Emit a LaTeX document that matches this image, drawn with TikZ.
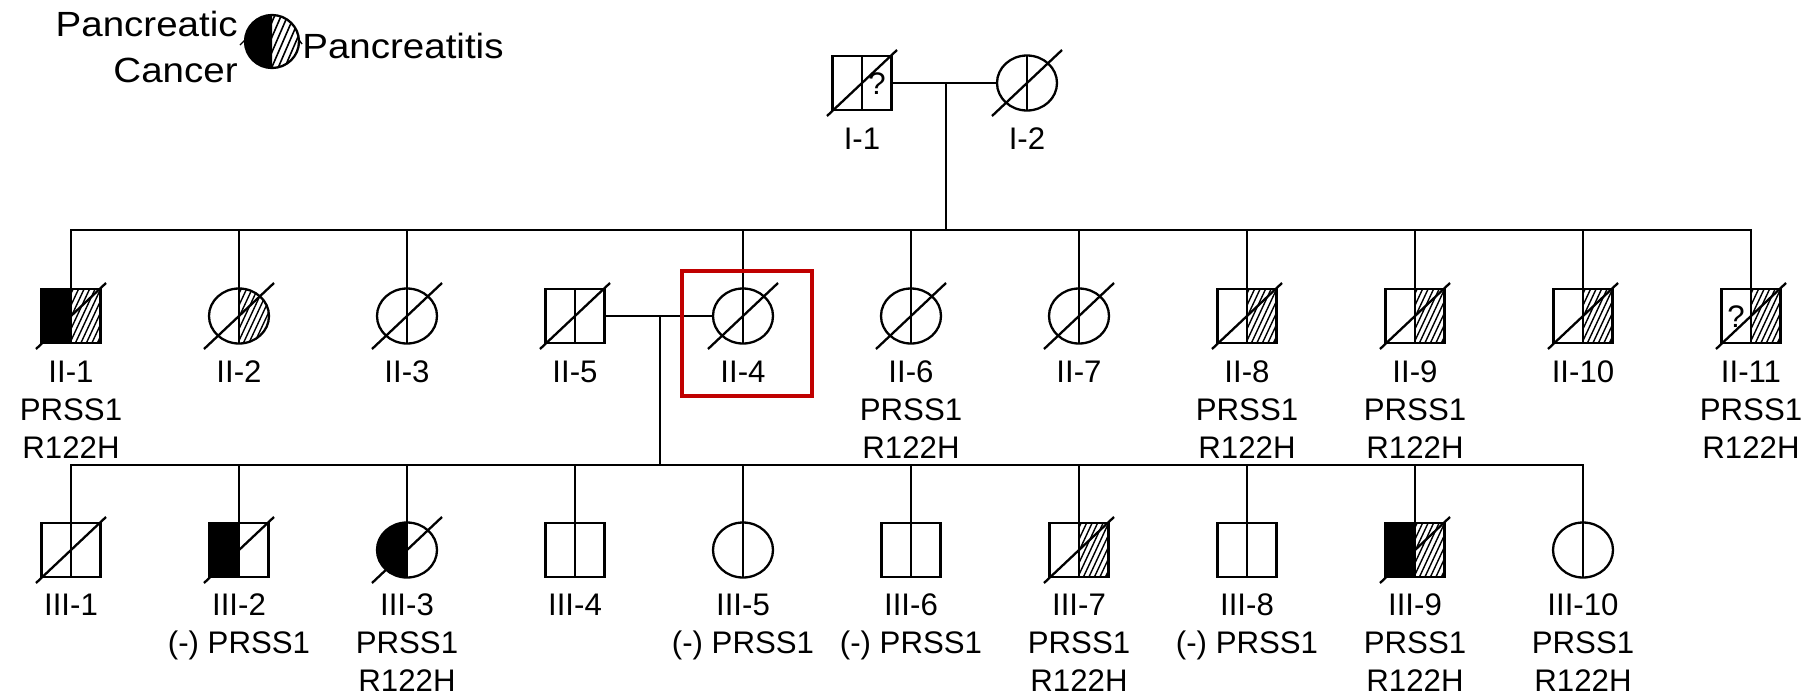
\documentclass[tikz,border=0pt]{standalone}
\usepackage{fontspec}
\setmainfont{Liberation Sans}
\usetikzlibrary{shapes.geometric,calc}
\definecolor{boxred}{RGB}{192,0,0}
\newcommand{\lblfont}{\fontsize{15.6}{19}\selectfont}
\newcommand{\legfont}{\fontsize{17.5}{21}\selectfont}
\tikzset{
  ln/.style={line width=1.15pt, line cap=rect},
  msq/.style={draw, line width=1.15pt, minimum width=29.5pt, minimum height=27pt, inner sep=0pt, outer sep=0pt},
  fcirc/.style={draw, ellipse, line width=1.15pt, minimum width=30pt, minimum height=27.5pt, inner sep=0pt, outer sep=0pt},
  hatch/.style={line width=0.7pt},
  lbl/.style={font=\lblfont, inner sep=0pt, anchor=base},
  legf/.style={font=\legfont, inner sep=0pt},
  hlbox/.style={draw=boxred, line width=2pt, minimum width=65pt, minimum height=62.5pt, inner sep=0pt}
}
% symbols
\newcommand{\Sq}[3]{\node[msq] (#1) at (#2,#3) {}; \draw[line width=1.15pt] (#1.north) -- (#1.south);}
\newcommand{\Ci}[3]{\node[fcirc] (#1) at (#2,#3) {}; \draw[line width=1.15pt] (#1.north) -- (#1.south);}
\newcommand{\Dec}[1]{\draw[line width=1.15pt] ($(#1.center)+(-35,33)$) -- ($(#1.center)+(35,-33)$);}
\newcommand{\hatchlines}[2]{\foreach \k in {0,...,12}{\draw[hatch] (#1-30+\k*5.5,#2+30) -- ++(28,-60);}}
\newcommand{\SqL}[2]{\fill (#1-29.5,#2-27) rectangle (#1,#2+27);}
\newcommand{\SqR}[2]{\begin{scope}\clip (#1,#2-27) rectangle (#1+29.5,#2+27); \hatchlines{#1}{#2}\end{scope}}
\newcommand{\CiL}[2]{\begin{scope}\clip (#1-31,#2-29) rectangle (#1,#2+29); \fill (#1,#2) ellipse [x radius=30, y radius=27.5];\end{scope}}
\newcommand{\CiR}[2]{\begin{scope}\clip (#1,#2) ellipse [x radius=30, y radius=27.5]; \clip (#1,#2-29) rectangle (#1+31,#2+29); \hatchlines{#1}{#2}\end{scope}}
\newcommand{\Lab}[4]{\node[lbl] (#1) at (#2,#3) {#4};}
\begin{document}
\begin{tikzpicture}[x=0.5pt,y=-0.5pt]
\useasboundingbox (0,0) rectangle (1819,697);

% ---------- legend ----------
\begin{scope}
  \clip (272-28,41.5-28) rectangle (272,41.5+28);
  \fill (272,41.5) ellipse [x radius=27, y radius=26.5];
\end{scope}
\begin{scope}
  \clip (272,41.5) ellipse [x radius=27, y radius=26.5];
  \clip (272,41.5-28) rectangle (272+28,41.5+28);
  \foreach \k in {0,...,9}{\draw[line width=0.8pt] (272-28+\k*6.5,41.5+30) -- ++(26,-60);}
\end{scope}
\node[draw, ellipse, line width=1.15pt, minimum width=27pt, minimum height=26.5pt, inner sep=0pt] (leg) at (272,41.5) {};
\node[legf, anchor=base east] (legA) at (238,36) {\scalebox{1.1}[1]{Pancreatic}};
\node[legf, anchor=base east] (legB) at (238,82) {\scalebox{1.1}[1]{Cancer}};
\node[legf, anchor=base west] (legC) at (302,58) {\scalebox{1.1}[1]{Pancreatitis}};
\draw[line width=0.7pt] (240,45) -- (245,40);
\draw[line width=0.7pt] (299,40) -- (302,44);

% ---------- generation I ----------
\Sq{I1}{862}{83}\Dec{I1}
\node[lbl, anchor=center] (q1) at (877,84) {?};
\Ci{I2}{1027}{83}\Dec{I2}
\Lab{lI1}{862}{149}{I-1}
\Lab{lI2}{1027}{149}{I-2}
\coordinate (m1) at (946,83);
\coordinate (s2L) at (71,230);
\coordinate (s2R) at (1751,230);
\draw[ln] (I1.east) -- (I2.west);
\draw[ln] (m1) -- (m1 |- s2L);
\draw[ln] (s2L) -- (s2R);

% ---------- generation II ----------
\SqL{71}{316}\SqR{71}{316}\Sq{II1}{71}{316}\Dec{II1}
\CiR{239}{316}\Ci{II2}{239}{316}\Dec{II2}
\Ci{II3}{407}{316}\Dec{II3}
\Sq{II5}{575}{316}\Dec{II5}
\Ci{II4}{743}{316}\Dec{II4}
\Ci{II6}{911}{316}\Dec{II6}
\Ci{II7}{1079}{316}\Dec{II7}
\SqR{1247}{316}\Sq{II8}{1247}{316}\Dec{II8}
\SqR{1415}{316}\Sq{II9}{1415}{316}\Dec{II9}
\SqR{1583}{316}\Sq{II10}{1583}{316}\Dec{II10}
\SqR{1751}{316}\Sq{II11}{1751}{316}\Dec{II11}
\node[lbl, anchor=center] (q2) at (1736,317) {?};

\foreach \n in {II1,II2,II3,II4,II6,II7,II8,II9,II10,II11}
  {\draw[ln] (\n.north |- s2L) -- (\n.north);}

\Lab{lII1a}{71}{382}{II-1}\Lab{lII1b}{71}{420}{PRSS1}\Lab{lII1c}{71}{458}{R122H}
\Lab{lII2}{239}{382}{II-2}
\Lab{lII3}{407}{382}{II-3}
\Lab{lII5}{575}{382}{II-5}
\Lab{lII4}{743}{382}{II-4}
\Lab{lII6a}{911}{382}{II-6}\Lab{lII6b}{911}{420}{PRSS1}\Lab{lII6c}{911}{458}{R122H}
\Lab{lII7}{1079}{382}{II-7}
\Lab{lII8a}{1247}{382}{II-8}\Lab{lII8b}{1247}{420}{PRSS1}\Lab{lII8c}{1247}{458}{R122H}
\Lab{lII9a}{1415}{382}{II-9}\Lab{lII9b}{1415}{420}{PRSS1}\Lab{lII9c}{1415}{458}{R122H}
\Lab{lII10}{1583}{382}{II-10}
\Lab{lII11a}{1751}{382}{II-11}\Lab{lII11b}{1751}{420}{PRSS1}\Lab{lII11c}{1751}{458}{R122H}

\coordinate (m2) at (660,316);
\coordinate (s3L) at (71,465);
\coordinate (s3R) at (1583,465);
\draw[ln] (II5.east) -- (II4.west);
\draw[ln] (m2) -- (m2 |- s3L);
\draw[ln] (s3L) -- (s3R);

% ---------- generation III ----------
\Sq{III1}{71}{550}\Dec{III1}
\SqL{239}{550}\Sq{III2}{239}{550}\Dec{III2}
\CiL{407}{550}\Ci{III3}{407}{550}\Dec{III3}
\Sq{III4}{575}{550}
\Ci{III5}{743}{550}
\Sq{III6}{911}{550}
\SqR{1079}{550}\Sq{III7}{1079}{550}\Dec{III7}
\Sq{III8}{1247}{550}
\SqL{1415}{550}\SqR{1415}{550}\Sq{III9}{1415}{550}\Dec{III9}
\Ci{III10}{1583}{550}

\foreach \n in {III1,III2,III3,III4,III5,III6,III7,III8,III9,III10}
  {\draw[ln] (\n.north |- s3L) -- (\n.north);}

\Lab{lIII1}{71}{615}{III-1}
\Lab{lIII2a}{239}{615}{III-2}\Lab{lIII2b}{239}{653}{(-) PRSS1}
\Lab{lIII3a}{407}{615}{III-3}\Lab{lIII3b}{407}{653}{PRSS1}\Lab{lIII3c}{407}{691}{R122H}
\Lab{lIII4}{575}{615}{III-4}
\Lab{lIII5a}{743}{615}{III-5}\Lab{lIII5b}{743}{653}{(-) PRSS1}
\Lab{lIII6a}{911}{615}{III-6}\Lab{lIII6b}{911}{653}{(-) PRSS1}
\Lab{lIII7a}{1079}{615}{III-7}\Lab{lIII7b}{1079}{653}{PRSS1}\Lab{lIII7c}{1079}{691}{R122H}
\Lab{lIII8a}{1247}{615}{III-8}\Lab{lIII8b}{1247}{653}{(-) PRSS1}
\Lab{lIII9a}{1415}{615}{III-9}\Lab{lIII9b}{1415}{653}{PRSS1}\Lab{lIII9c}{1415}{691}{R122H}
\Lab{lIII10a}{1583}{615}{III-10}\Lab{lIII10b}{1583}{653}{PRSS1}\Lab{lIII10c}{1583}{691}{R122H}

% ---------- highlight ----------
\node[hlbox] (hl) at (747,333.5) {};
\end{tikzpicture}
\end{document}
